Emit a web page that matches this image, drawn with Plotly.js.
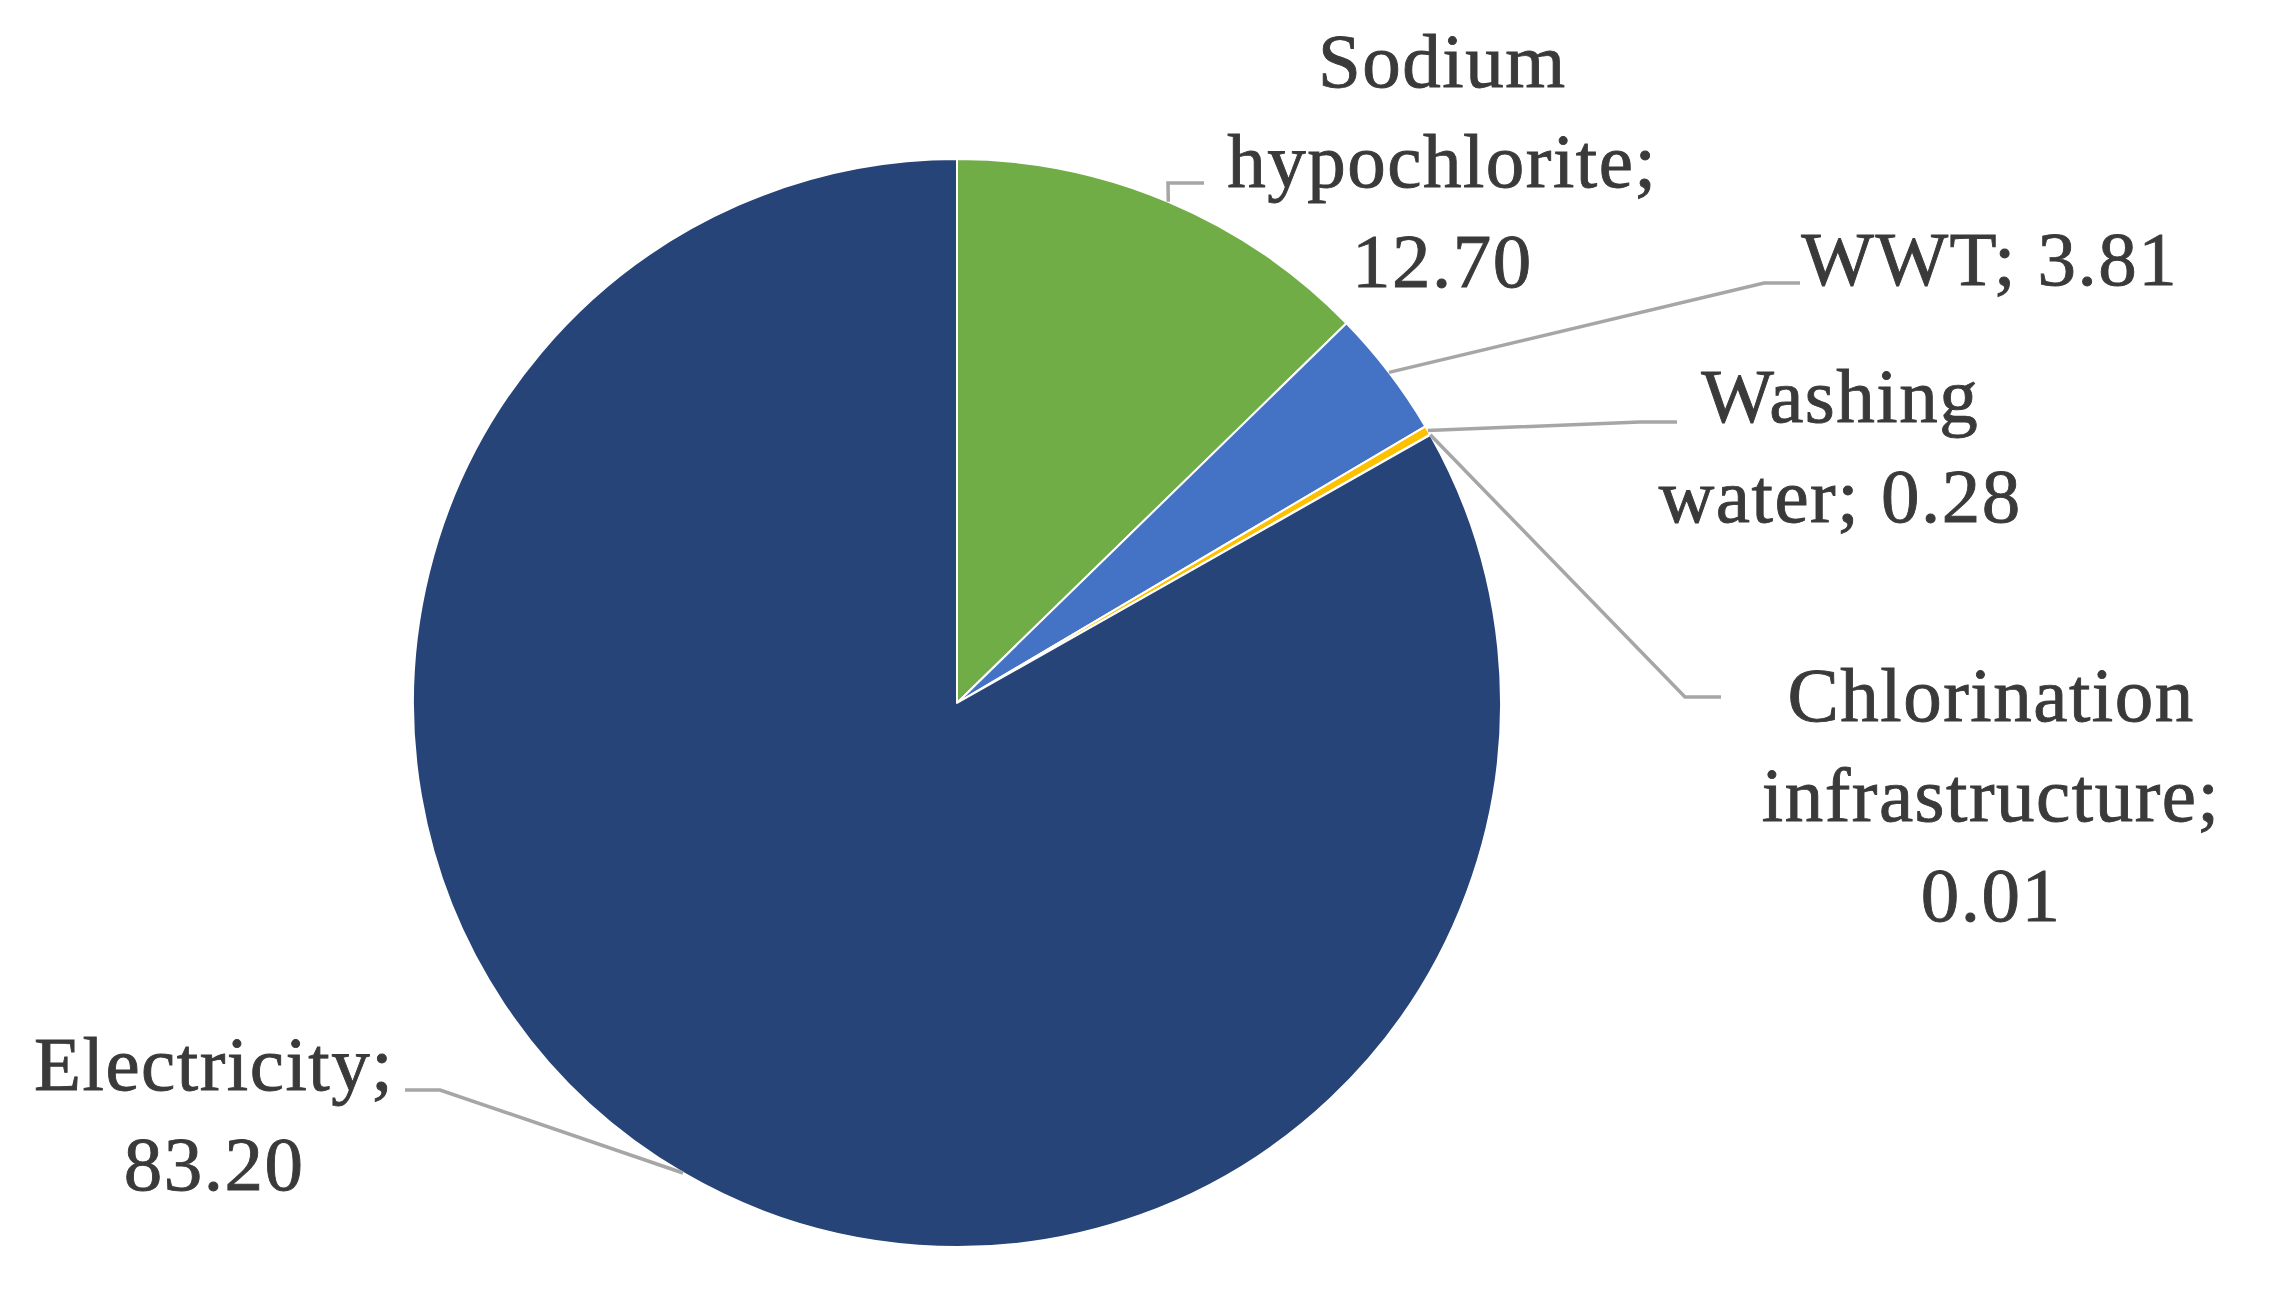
<!DOCTYPE html>
<html><head><meta charset="utf-8">
<script src="https://cdn.plot.ly/plotly-3.0.1.min.js"></script>
<style>
html,body{margin:0;padding:0;background:#fff;}
#chart{width:2272px;height:1303px;}
#chart .annotation-text{letter-spacing:1.5px;stroke:#3A3A3A;stroke-width:0.9px;}
</style>
</head><body><div id="chart"></div>
<script>
// ---- data ----
const categories = ["Sodium hypochlorite", "WWT", "Washing water", "Chlorination infrastructure", "Electricity"];
const values = [12.70, 3.81, 0.28, 0.01, 83.20];
const colors = ["#70AD47", "#4472C4", "#FFC000", "#A5A5A5", "#264478"];

// ---- layout config (pixels) ----
const W = 2272, H = 1303;
const CX = 957, CY = 703, R = 544;
const valueSep = ["<br>", " ", " ", "<br>", "<br>"];
const labelPos = [
  {x: 1442, y: 161, anchor: "center"},
  {x: 1808, y: 259, anchor: "left"},
  {x: 1840, y: 446, anchor: "center"},
  {x: 1991, y: 795, anchor: "center"},
  {x: 214,  y: 1114, anchor: "center"}
];
const elbows = [
  [[1168, 183], [1204, 183]],
  [[1764, 283], [1800, 283]],
  [[1640, 422], [1677, 422]],
  [[1685, 697], [1721, 697]],
  [[440, 1090], [405, 1090]]
];

const px = x => x / W;
const py = y => 1 - y / H;

const total = values.reduce((a, b) => a + b, 0);
let cum = 0;
const shapes = [];
const annotations = [];
values.forEach((v, i) => {
  const th = (cum + v / 2) / total * 2 * Math.PI;
  cum += v;
  const ex = CX + R * Math.sin(th), ey = CY - R * Math.cos(th);
  let path = `M ${px(ex)} ${py(ey)}`;
  elbows[i].forEach(p => { path += ` L ${px(p[0])} ${py(p[1])}`; });
  shapes.push({type: "path", xref: "paper", yref: "paper", path: path,
               line: {color: "#A6A6A6", width: 3.5}});
  const name = categories[i].replace(" ", "<br>");
  annotations.push({
    xref: "paper", yref: "paper", x: px(labelPos[i].x), y: py(labelPos[i].y),
    xanchor: labelPos[i].anchor, yanchor: "middle", align: "center",
    showarrow: false, borderpad: 0, borderwidth: 0,
    text: name + ";" + valueSep[i] + v.toFixed(2),
    font: {family: "Liberation Serif, serif", size: 77, color: "#3A3A3A"}
  });
});

const trace = {
  type: "pie",
  labels: categories,
  values: values,
  sort: false,
  direction: "clockwise",
  rotation: 0,
  textinfo: "none",
  hoverinfo: "label+value",
  marker: {colors: colors, line: {color: "#FFFFFF", width: 2}},
  domain: {x: [px(CX - R), px(CX + R)], y: [py(CY + R), py(CY - R)]},
  showlegend: false
};

const layout = {
  width: W, height: H,
  margin: {l: 0, r: 0, t: 0, b: 0},
  paper_bgcolor: "#FFFFFF",
  showlegend: false,
  shapes: shapes,
  annotations: annotations
};

Plotly.newPlot("chart", [trace], layout, {displayModeBar: false, staticPlot: true});
</script>
</body></html>
